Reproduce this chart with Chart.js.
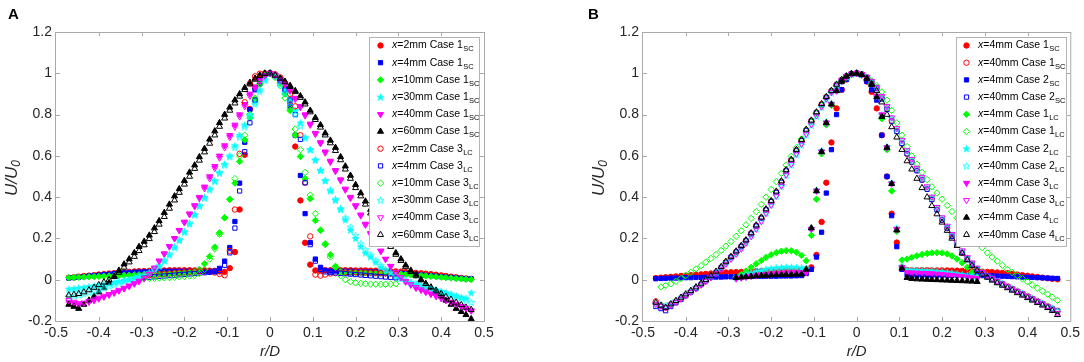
<!DOCTYPE html>
<html>
<head>
<meta charset="utf-8">
<script src="https://cdn.jsdelivr.net/npm/chart.js@4.4.1/dist/chart.umd.min.js"></script>
<style>
  html, body { margin: 0; padding: 0; background: #fff; }
  body { width: 1084px; height: 362px; position: relative; overflow: hidden; }
  .panel { position: absolute; top: 0; height: 362px; }
  #panelA { left: 0; width: 540px; }
  #panelB { left: 540px; width: 544px; }
</style>
</head>
<body>
<div class="panel" id="panelA"><canvas id="chartA" width="540" height="362"></canvas></div>
<div class="panel" id="panelB"><canvas id="chartB" width="544" height="362"></canvas></div>
<script>
// shared radial positions r/D of the measurement points
const rD = [
  -0.470, -0.458, -0.447, -0.435, -0.423, -0.411, -0.400, -0.388, -0.376, -0.364,
  -0.353, -0.341, -0.329, -0.317, -0.306, -0.294, -0.282, -0.270, -0.259, -0.247,
  -0.235, -0.223, -0.212, -0.200, -0.188, -0.176, -0.165, -0.153, -0.141, -0.129,
  -0.118, -0.106, -0.094, -0.082, -0.071, -0.059, -0.047, -0.035, -0.024, -0.012,
  0, 0.012, 0.024, 0.035, 0.047, 0.059, 0.071, 0.082, 0.094, 0.106,
  0.118, 0.129, 0.141, 0.153, 0.165, 0.176, 0.188, 0.200, 0.212, 0.223,
  0.235, 0.247, 0.259, 0.270, 0.282, 0.294, 0.306, 0.317, 0.329, 0.341,
  0.353, 0.364, 0.376, 0.388, 0.400, 0.411, 0.423, 0.435, 0.447, 0.458, 0.470
];

const xTickLabels = ["-0.5", "-0.4", "-0.3", "-0.2", "-0.1", "0", "0.1", "0.2", "0.3", "0.4", "0.5"];
const yTickLabels = ["-0.2", "0", "0.2", "0.4", "0.6", "0.8", "1", "1.2"];

// ---- panel A : U/U0 ----
const a2mm1SC = [
  .010, .012, .015, .018, .020, .022, .025, .027, .030, .032,
  .034, .036, .038, .040, .041, .042, .043, .044, .045, .045,
  .046, .046, .046, .046, .046, .045, .045, .045, .044, .043,
  .040, .038, .056, .134, .340, .605, .827, .930, .975, .995,
  1.0, .990, .970, .930, .860, .645, .384, .179, .073, .045,
  .045, .046, .046, .046, .046, .046, .046, .045, .045, .045,
  .044, .044, .043, .042, .041, .040, .039, .037, .035, .033,
  .031, .029, .027, .024, .021, .018, .015, .012, .009, .006, .004
];
const a4mm1SC = [
  .008, .010, .012, .015, .018, .020, .022, .025, .027, .029,
  .031, .033, .035, .036, .037, .038, .039, .040, .040, .041,
  .041, .041, .041, .041, .041, .040, .040, .040, .040, .042,
  .055, .090, .156, .282, .468, .666, .824, .920, .970, .995,
  1.0, .990, .960, .925, .840, .700, .505, .320, .180, .100,
  .060, .045, .042, .042, .042, .041, .041, .040, .040, .039,
  .038, .037, .036, .035, .034, .033, .031, .029, .027, .025,
  .023, .021, .019, .017, .015, .013, .011, .009, .007, .005, .004
];
const a10mm1SC = [
  .010, .011, .012, .013, .014, .015, .016, .017, .018, .019,
  .020, .021, .022, .023, .024, .025, .026, .027, .028, .029,
  .030, .031, .032, .033, .035, .040, .050, .077, .113, .158,
  .227, .300, .389, .468, .573, .677, .784, .873, .945, .990,
  1.0, .985, .950, .900, .820, .700, .597, .490, .392, .287,
  .239, .174, .121, .065, .040, .035, .034, .034, .033, .033,
  .032, .032, .031, .030, .029, .028, .027, .025, .024, .022,
  .020, .018, .016, .014, .012, .010, .008, .006, .004, .002, .001
];
const a30mm1SC = [
  -.045, -.043, -.040, -.037, -.033, -.030, -.026, -.022, -.018, -.013,
  -.008, -.003, .002, .008, .014, .020, .030, .045, .065, .090,
  .120, .155, .190, .230, .270, .315, .360, .400, .440, .480,
  .520, .560, .600, .650, .700, .750, .800, .860, .920, .970,
  1.0, .990, .960, .920, .880, .820, .760, .690, .630, .580,
  .530, .480, .430, .385, .340, .290, .240, .200, .160, .130,
  .110, .085, .060, .045, .030, .015, .005, -.005, -.015, -.022,
  -.030, -.037, -.044, -.050, -.057, -.063, -.070, -.078, -.085, -.090, -.063
];
const a40mm1SC = [
  -.110, -.115, -.120, -.115, -.108, -.100, -.092, -.083, -.074, -.064,
  -.054, -.043, -.032, -.020, -.008, .005, .025, .055, .090, .125,
  .160, .200, .240, .280, .320, .360, .400, .450, .500, .550,
  .600, .650, .700, .750, .800, .850, .900, .935, .965, .990,
  1.0, .990, .970, .950, .920, .880, .840, .800, .755, .710,
  .665, .620, .575, .530, .485, .440, .400, .360, .315, .270,
  .225, .180, .140, .100, .065, .035, .010, -.010, -.025, -.040,
  -.050, -.060, -.070, -.080, -.090, -.100, -.110, -.120, -.130, -.140, -.150
];
const a60mm1SC = [
  -.120, -.130, -.140, -.120, -.100, -.080, -.060, -.040, -.015, .015,
  .045, .075, .100, .130, .160, .185, .215, .250, .285, .325,
  .365, .405, .440, .480, .520, .555, .595, .635, .680, .720,
  .760, .800, .835, .870, .900, .930, .955, .975, .990, 1.0,
  1.0, .990, .975, .960, .940, .915, .890, .860, .820, .785,
  .750, .710, .675, .640, .595, .550, .505, .460, .420, .380,
  .340, .300, .255, .210, .170, .130, .100, .070, .045, .025,
  .000, -.020, -.040, -.060, -.080, -.100, -.120, -.140, -.155, -.170, -.190
];
const a2mm3LC = [
  null, null, null, null, null, null, null, null, null, null,
  null, null, null, null, null, .020, .022, .024, .026, .028,
  .030, .032, .034, .036, .038, .040, .040, .040, .038, .035,
  .028, .022, .140, .340, .610, .860, .950, .985, .998, 1.0,
  1.0, .995, .980, .950, .900, .840, .700, .470, .210, .025,
  .020, .025, .030, .032, .034, .035, .036, .036, .036, .035,
  .034, .033, .032, .031, .030, .029, null, null, null, null,
  null, null, null, null, null, null, null, null, null, null, null
];
const a4mm3LC = [
  null, null, null, null, null, null, null, null, null, null,
  null, null, null, null, null, .010, .012, .014, .016, .018,
  .020, .022, .024, .026, .028, .030, .032, .034, .036, .038,
  .045, .070, .130, .250, .430, .620, .760, .870, .950, .990,
  1.0, .990, .960, .920, .870, .800, .680, .470, .170, .090,
  .050, .038, .035, .033, .031, .029, .027, .025, .023, .021,
  .019, .017, .015, .013, .011, .009, null, null, null, null,
  null, null, null, null, null, null, null, null, null, null, null
];
const a10mm3LC = [
  null, null, null, null, null, null, null, null, null, null,
  null, null, null, null, null, .005, .006, .007, .008, .009,
  .010, .012, .014, .016, .018, .022, .030, .050, .100, .150,
  .220, .300, .390, .490, .600, .700, .800, .880, .950, .990,
  1.0, .980, .940, .880, .830, .730, .630, .520, .410, .320,
  .240, .170, .110, .060, .020, .000, -.010, -.015, -.018, -.020,
  -.021, -.022, -.022, -.022, -.021, -.020, null, null, null, null,
  null, null, null, null, null, null, null, null, null, null, null
];
const a30mm3LC = [
  -.080, -.078, -.074, -.068, -.062, -.055, -.048, -.040, -.032, -.024,
  -.016, -.008, .000, .008, .016, .025, .035, .050, .070, .095,
  .125, .160, .195, .235, .275, .315, .355, .395, .435, .475,
  .515, .555, .595, .640, .690, .740, .790, .850, .910, .965,
  1.0, .985, .945, .905, .860, .800, .745, .685, .630, .580,
  .530, .480, .435, .390, .345, .300, .255, .215, .175, .145,
  .120, .095, .070, .050, .035, .020, .008, -.002, -.012, -.020,
  -.028, -.036, -.043, -.050, -.058, -.066, -.074, -.082, -.090, -.100, -.110
];
const a40mm3LC = [
  -.100, -.108, -.115, -.112, -.105, -.097, -.088, -.079, -.070, -.060,
  -.050, -.040, -.029, -.018, -.006, .008, .028, .058, .092, .127,
  .162, .200, .238, .277, .316, .355, .395, .442, .490, .540,
  .590, .640, .690, .740, .790, .840, .890, .930, .960, .988,
  1.0, .990, .968, .945, .915, .875, .835, .795, .750, .705,
  .660, .615, .570, .525, .480, .435, .395, .355, .310, .265,
  .220, .178, .138, .100, .066, .036, .012, -.008, -.023, -.037,
  -.048, -.058, -.068, -.078, -.088, -.098, -.108, -.118, -.128, -.138, -.150
];
const a60mm3LC = [
  -.075, -.072, -.068, -.060, -.050, -.038, -.025, -.012, .000, .015,
  .035, .060, .085, .112, .140, .168, .198, .232, .268, .305,
  .345, .385, .422, .462, .500, .538, .578, .618, .660, .700,
  .742, .782, .820, .855, .888, .920, .948, .970, .988, .998,
  1.0, .990, .975, .958, .935, .910, .882, .850, .812, .775,
  .738, .700, .662, .625, .580, .535, .490, .445, .405, .365,
  .322, .282, .240, .198, .160, .122, .092, .062, .038, .018,
  -.002, -.020, -.036, -.052, -.068, -.082, -.096, -.110, -.122, -.134, -.145
];

// ---- panel B : U/U0 ----
const b4mm1SC = [
  .008, .010, .012, .014, .016, .018, .020, .022, .024, .026,
  .028, .030, .032, .034, .035, .036, .037, .038, .039, .040,
  .041, .042, .042, .043, .043, .044, .044, .044, .045, .045,
  .050, .060, .120, .280, .470, .665, .830, .920, .970, .995,
  1.0, .990, .960, .910, .830, .700, .500, .320, .180, .060,
  .047, .046, .046, .046, .046, .045, .045, .045, .045, .044,
  .044, .043, .042, .041, .040, .039, .038, .037, .035, .033,
  .031, .028, .025, .022, .019, .016, .013, .010, .007, .004, .002
];
const b40mm1SC = [
  -.105, -.125, -.135, -.120, -.105, -.090, -.074, -.057, -.040, -.022,
  -.005, .013, .035, .060, .085, .110, .135, .162, .190, .225,
  .262, .300, .340, .380, .425, .475, .530, .580, .628, .675,
  .725, .770, .810, .850, .885, .915, .945, .968, .985, .997,
  1.0, .995, .980, .960, .930, .880, .830, .770, .720, .660,
  .610, .570, .530, .485, .440, .390, .340, .290, .250, .210,
  .170, .130, .100, .075, .050, .030, .015, .003, -.010, -.020,
  -.032, -.044, -.056, -.068, -.080, -.092, -.104, -.116, -.128, -.140, -.150
];
const b4mm2SC = [
  .005, .006, .007, .008, .008, .009, .010, .010, .011, .011,
  .012, .012, .013, .013, .014, .014, .015, .015, .015, .016,
  .016, .016, .017, .017, .017, .018, .018, .018, .019, .020,
  .030, .050, .110, .230, .420, .630, .800, .920, .970, .995,
  1.0, .990, .960, .920, .870, .700, .500, .310, .160, .050,
  .025, .022, .022, .022, .022, .022, .022, .022, .022, .021,
  .021, .021, .021, .020, .020, .020, .019, .019, .018, .017,
  .016, .015, .014, .013, .012, .011, .010, .009, .008, .007, .006
];
const b40mm2SC = [
  -.130, -.140, -.150, -.130, -.112, -.095, -.078, -.060, -.042, -.024,
  -.006, .012, .034, .058, .083, .108, .134, .160, .188, .222,
  .260, .298, .338, .378, .423, .472, .527, .578, .626, .673,
  .723, .768, .808, .848, .883, .913, .943, .967, .985, .997,
  1.0, .995, .980, .958, .925, .875, .825, .768, .718, .660,
  .610, .570, .528, .483, .438, .388, .338, .290, .250, .210,
  .170, .132, .100, .075, .050, .030, .014, .002, -.011, -.021,
  -.033, -.045, -.057, -.069, -.081, -.093, -.105, -.117, -.130, -.142, -.152
];
const b4mm1LC = [
  null, null, null, null, null, null, null, null, null, null,
  null, null, null, null, null, null, .010, .025, .042, .060,
  .077, .093, .108, .121, .131, .138, .141, .140, .133, .118,
  .092, .215, .390, .610, .750, .845, .915, .960, .985, .997,
  1.0, .995, .980, .950, .890, .780, .630, .430, .235, .095,
  .100, .108, .116, .122, .127, .130, .131, .130, .125, .115,
  .100, .082, .060, .035, .012, null, null, null, null, null,
  null, null, null, null, null, null, null, null, null, null, null
];
const b40mm1LC = [
  null, -.035, -.028, -.020, -.008, .006, .020, .036, .052, .068,
  .085, .103, .122, .142, .163, .185, .210, .237, .266, .297,
  .330, .365, .400, .437, .475, .515, .556, .598, .640, .682,
  .724, .765, .805, .845, .880, .912, .940, .963, .982, .995,
  1.0, .993, .980, .962, .940, .910, .870, .820, .760, .700,
  .645, .600, .560, .520, .485, .450, .420, .390, .360, .330,
  .300, .270, .240, .210, .180, .155, .130, .110, .090, .070,
  .050, .035, .020, .005, -.010, -.025, -.040, -.055, -.070, -.085, -.100
];
const b4mm2LC = [
  null, null, null, null, null, null, null, null, null, null,
  null, null, null, null, null, null, .010, .018, .026, .033,
  .040, .046, .051, .055, .058, .060, .061, .061, .060, .058,
  .056, .250, .435, .625, .765, .855, .920, .962, .986, .997,
  1.0, .995, .980, .950, .890, .800, .645, .470, .250, .065,
  .048, .047, .046, .045, .044, .043, .041, .039, .036, .033,
  .029, .025, .021, .017, .013, null, null, null, null, null,
  null, null, null, null, null, null, null, null, null, null, null
];
const b40mm2LC = [
  -.115, -.120, -.125, -.115, -.100, -.085, -.070, -.053, -.036, -.018,
  -.002, .016, .036, .058, .082, .105, .128, .153, .180, .212,
  .248, .285, .322, .362, .405, .452, .505, .555, .605, .652,
  .700, .748, .792, .835, .873, .905, .937, .963, .983, .996,
  1.0, .995, .982, .962, .932, .885, .838, .782, .730, .672,
  .622, .580, .538, .494, .448, .398, .348, .298, .257, .217,
  .177, .138, .106, .080, .055, .034, .018, .005, -.008, -.019,
  -.030, -.042, -.054, -.066, -.078, -.090, -.102, -.114, -.126, -.138, -.150
];
const b4mm3LC = [
  null, null, null, null, null, null, null, null, null, null,
  null, null, null, null, null, null, .005, .009, .013, .017,
  .020, .023, .026, .028, .030, .032, .033, .034, .035, .035,
  .035, .245, .430, .620, .760, .850, .915, .960, .985, .997,
  1.0, .995, .980, .950, .890, .800, .640, .465, .245, .060,
  .035, .034, .033, .032, .031, .030, .028, .026, .024, .022,
  .019, .016, .013, .010, .007, null, null, null, null, null,
  null, null, null, null, null, null, null, null, null, null, null
];
const b40mm3LC = [
  -.118, -.128, -.135, -.122, -.108, -.093, -.077, -.060, -.043, -.025,
  -.008, .010, .030, .052, .076, .100, .125, .150, .178, .210,
  .246, .283, .322, .362, .406, .455, .508, .560, .610, .658,
  .706, .752, .795, .838, .876, .908, .940, .965, .984, .997,
  1.0, .995, .982, .962, .933, .888, .840, .785, .733, .676,
  .626, .584, .541, .497, .451, .401, .351, .301, .260, .220,
  .180, .141, .108, .082, .057, .036, .019, .006, -.008, -.020,
  -.032, -.044, -.056, -.068, -.080, -.092, -.104, -.116, -.130, -.145, -.162
];
const b4mm4LC = [
  null, null, null, null, null, null, null, null, null, null,
  null, null, null, null, null, null, .010, .012, .014, .016,
  .018, .020, .021, .022, .023, .024, .025, .025, .026, .026,
  .050, .250, .430, .620, .760, .850, .915, .960, .985, .997,
  1.0, .993, .975, .945, .885, .790, .640, .465, .240, .055,
  .010, .005, .003, .002, .001, .000, -.001, -.002, -.003, -.004,
  -.005, -.006, -.007, -.008, -.010, null, null, null, null, null,
  null, null, null, null, null, null, null, null, null, null, null
];
const b40mm4LC = [
  -.110, -.125, -.135, -.118, -.102, -.086, -.070, -.053, -.036, -.018,
  .000, .018, .040, .063, .088, .112, .138, .165, .192, .226,
  .264, .302, .342, .382, .428, .478, .532, .582, .630, .678,
  .728, .772, .812, .852, .886, .916, .946, .969, .986, .998,
  1.0, .993, .975, .950, .915, .860, .800, .740, .690, .630,
  .575, .535, .490, .445, .400, .358, .318, .278, .238, .200,
  .165, .128, .095, .068, .045, .026, .011, -.003, -.016, -.028,
  -.040, -.052, -.064, -.076, -.088, -.100, -.112, -.124, -.136, -.150, -.170
];

// legend rows: position, case number, subscript
const legendA = [
  ["2mm", "1", "SC"], ["4mm", "1", "SC"], ["10mm", "1", "SC"], ["30mm", "1", "SC"],
  ["40mm", "1", "SC"], ["60mm", "1", "SC"], ["2mm", "3", "LC"], ["4mm", "3", "LC"],
  ["10mm", "3", "LC"], ["30mm", "3", "LC"], ["40mm", "3", "LC"], ["60mm", "3", "LC"]
];
const legendB = [
  ["4mm", "1", "SC"], ["40mm", "1", "SC"], ["4mm", "2", "SC"], ["40mm", "2", "SC"],
  ["4mm", "1", "LC"], ["40mm", "1", "LC"], ["4mm", "2", "LC"], ["40mm", "2", "LC"],
  ["4mm", "3", "LC"], ["40mm", "3", "LC"], ["4mm", "4", "LC"], ["40mm", "4", "LC"]
];

const FONT = '"Liberation Sans", Arial, Helvetica, sans-serif';
const AXIS = "#a9a9a9";
const TEXT = "#262626";
const RED = "#ff0000", BLUE = "#0000ff", GREEN = "#00ff00",
  CYAN = "#00ffff", MAGENTA = "#ff00ff", BLACK = "#000000";

const markers = {
  circle: { style: "circle", r: 2.7, rot: 0 },
  square: { style: "rect", r: 3.0, rot: 0 },
  diamond: { style: "rectRot", r: 3.2, rot: 0 },
  up: { style: "triangle", r: 3.5, rot: 0 },
  down: { style: "triangle", r: 3.5, rot: 180 },
  star: { style: null, r: 3.5, rot: 0 },
};

// matlab style pentagram, drawn once into a small canvas
function starCanvas(color, filled) {
  const c = document.createElement("canvas");
  c.width = 9;
  c.height = 9;
  const g = c.getContext("2d");
  g.beginPath();
  for (let k = 0; k < 10; k++) {
    const r = k % 2 ? 1.4 : 3.5;
    const a = -Math.PI / 2 + (k * Math.PI) / 5;
    const px = 4.5 + r * Math.cos(a);
    const py = 4.8 + r * Math.sin(a);
    if (k) g.lineTo(px, py);
    else g.moveTo(px, py);
  }
  g.closePath();
  g.lineWidth = 0.9;
  g.strokeStyle = color;
  if (filled) {
    g.fillStyle = color;
    g.fill();
  }
  g.stroke();
  return c;
}

function pointSet(values, shape, color, filled, k) {
  const data = [];
  rD.forEach((x, i) => {
    if (values[i] !== null) data.push({ x: x, y: values[i] });
  });
  const m = markers[shape];
  return {
    data,
    order: 30 - k, // later series on top, as in the original
    showLine: false,
    pointStyle: shape === "star" ? starCanvas(color, filled) : m.style,
    pointRadius: m.r,
    pointHoverRadius: m.r,
    pointRotation: m.rot,
    pointBorderWidth: 1,
    pointBorderColor: color,
    pointBackgroundColor: filled ? color : "rgba(0,0,0,0)",
  };
}

const seriesA = [
  [a2mm1SC, "circle", RED, true], [a4mm1SC, "square", BLUE, true],
  [a10mm1SC, "diamond", GREEN, true], [a30mm1SC, "star", CYAN, true],
  [a40mm1SC, "down", MAGENTA, true], [a60mm1SC, "up", BLACK, true],
  [a2mm3LC, "circle", RED, false], [a4mm3LC, "square", BLUE, false],
  [a10mm3LC, "diamond", GREEN, false], [a30mm3LC, "star", CYAN, false],
  [a40mm3LC, "down", MAGENTA, false], [a60mm3LC, "up", BLACK, false],
];
const seriesB = [
  [b4mm1SC, "circle", RED, true], [b40mm1SC, "circle", RED, false],
  [b4mm2SC, "square", BLUE, true], [b40mm2SC, "square", BLUE, false],
  [b4mm1LC, "diamond", GREEN, true], [b40mm1LC, "diamond", GREEN, false],
  [b4mm2LC, "star", CYAN, true], [b40mm2LC, "star", CYAN, false],
  [b4mm3LC, "down", MAGENTA, true], [b40mm3LC, "down", MAGENTA, false],
  [b4mm4LC, "up", BLACK, true], [b40mm4LC, "up", BLACK, false],
];

// frame, inward ticks, axis titles, panel letter and the legend box
function makeDecor(cfg) {
  return {
    id: "decor",
    afterDatasetsDraw(chart) {
      const { ctx, chartArea: a, scales } = chart;
      ctx.save();

      ctx.strokeStyle = AXIS;
      ctx.lineWidth = 1;
      ctx.strokeRect(a.left - 0.5, a.top + 0.5, a.right - a.left + 1, a.bottom - a.top);
      ctx.beginPath();
      scales.x.ticks.forEach((t, i) => {
        if (i === 0 || i === scales.x.ticks.length - 1) return;
        const px = Math.round(scales.x.getPixelForValue(t.value)) + 0.5;
        ctx.moveTo(px, a.bottom);
        ctx.lineTo(px, a.bottom - 4);
        ctx.moveTo(px, a.top);
        ctx.lineTo(px, a.top + 4);
      });
      scales.y.ticks.forEach((t, i) => {
        if (i === 0 || i === scales.y.ticks.length - 1) return;
        const py = Math.round(scales.y.getPixelForValue(t.value)) + 0.5;
        ctx.moveTo(a.left, py);
        ctx.lineTo(a.left + 4, py);
        ctx.moveTo(a.right, py);
        ctx.lineTo(a.right - 4, py);
      });
      ctx.stroke();

      // axis titles
      ctx.fillStyle = TEXT;
      ctx.textBaseline = "middle";
      ctx.textAlign = "center";
      ctx.font = "italic 15px " + FONT;
      ctx.fillText("r/D", (a.left + a.right) / 2, 352);

      ctx.save();
      ctx.translate(cfg.yTitleX, 178);
      ctx.rotate(-Math.PI / 2);
      ctx.font = "italic 17px " + FONT;
      const wMain = ctx.measureText("U/U").width;
      ctx.font = "italic 12px " + FONT;
      const wSub = ctx.measureText("0").width;
      ctx.textAlign = "left";
      ctx.font = "italic 17px " + FONT;
      ctx.fillText("U/U", -(wMain + wSub) / 2, 0);
      ctx.font = "italic 12px " + FONT;
      ctx.fillText("0", -(wMain + wSub) / 2 + wMain, 4.5);
      ctx.restore();

      // panel letter
      ctx.textAlign = "left";
      ctx.textBaseline = "alphabetic";
      ctx.font = "bold 15px " + FONT;
      ctx.fillStyle = "#000";
      ctx.fillText(cfg.letter, cfg.letterX, 18.5);

      // legend
      const lg = cfg.legend;
      ctx.fillStyle = "#fff";
      ctx.fillRect(lg.left, lg.top, lg.right - lg.left, lg.bottom - lg.top);
      ctx.strokeStyle = "#b4b4b4";
      ctx.strokeRect(lg.left + 0.5, lg.top + 0.5, lg.right - lg.left, lg.bottom - lg.top);

      cfg.rows.forEach((row, k) => {
        const [, shape, color, filled] = cfg.series[k];
        const m = markers[shape];
        const cy = lg.top + 8.5 + k * 17.2;
        ctx.fillStyle = filled ? color : "rgba(0,0,0,0)";
        ctx.strokeStyle = color;
        ctx.lineWidth = 1;
        Chart.helpers.drawPoint(
          ctx,
          {
            pointStyle: chart.data.datasets[k].pointStyle,
            radius: m.r,
            rotation: m.rot,
            borderWidth: 1,
          },
          lg.left + cfg.markerDx,
          cy
        );

        let tx = lg.left + cfg.textDx;
        ctx.fillStyle = "#000";
        ctx.textAlign = "left";
        ctx.textBaseline = "middle";
        ctx.font = "italic 10.5px " + FONT;
        ctx.fillText("x", tx, cy);
        tx += ctx.measureText("x").width;
        ctx.font = "10.5px " + FONT;
        const body = "=" + row[0] + " Case " + row[1];
        ctx.fillText(body, tx, cy);
        tx += ctx.measureText(body).width;
        ctx.font = "7.5px " + FONT;
        ctx.fillText(row[2], tx + 0.3, cy + 3.8);
      });

      ctx.restore();
    },
  };
}

function buildChart(canvasId, series, cfg) {
  const tickFont = { family: FONT, size: 14 };
  return new Chart(document.getElementById(canvasId), {
    type: "scatter",
    data: {
      datasets: series.map((s, k) => pointSet(s[0], s[1], s[2], s[3], k)),
    },
    options: {
      responsive: false,
      animation: false,
      events: [],
      layout: { padding: { left: cfg.padLeft, right: cfg.padRight, top: 32, bottom: 0 } },
      plugins: {
        legend: { display: false },
        tooltip: { enabled: false },
      },
      scales: {
        x: {
          type: "linear",
          min: -0.5,
          max: 0.5,
          grid: { display: false, drawTicks: false, tickLength: 0 },
          border: { display: false },
          ticks: {
            stepSize: 0.1,
            autoSkip: false,
            maxRotation: 0,
            padding: 4,
            color: TEXT,
            font: tickFont,
            callback: (v, i) => xTickLabels[i],
          },
          afterFit: (s) => {
            s.height = 41;
          },
        },
        y: {
          type: "linear",
          min: -0.2,
          max: 1.2,
          grid: { display: false, drawTicks: false, tickLength: 0 },
          border: { display: false },
          ticks: {
            stepSize: 0.2,
            autoSkip: false,
            padding: 4,
            color: TEXT,
            font: tickFont,
            callback: (v, i) => yTickLabels[i],
          },
          afterFit: (s) => {
            s.width = 56;
          },
        },
      },
    },
    plugins: [makeDecor(cfg)],
  });
}

buildChart("chartA", seriesA, {
  padLeft: 0,
  padRight: 56,
  yTitleX: 12,
  letter: "A",
  letterX: 8,
  rows: legendA,
  series: seriesA,
  legend: { left: 369, right: 479, top: 37, bottom: 246 },
  markerDx: 11.5,
  textDx: 23,
});

buildChart("chartB", seriesB, {
  padLeft: 47,
  padRight: 13,
  yTitleX: 59,
  letter: "B",
  letterX: 48,
  rows: legendB,
  series: seriesB,
  legend: { left: 416, right: 526, top: 37, bottom: 246 },
  markerDx: 10.5,
  textDx: 22,
});
</script>
</body>
</html>
